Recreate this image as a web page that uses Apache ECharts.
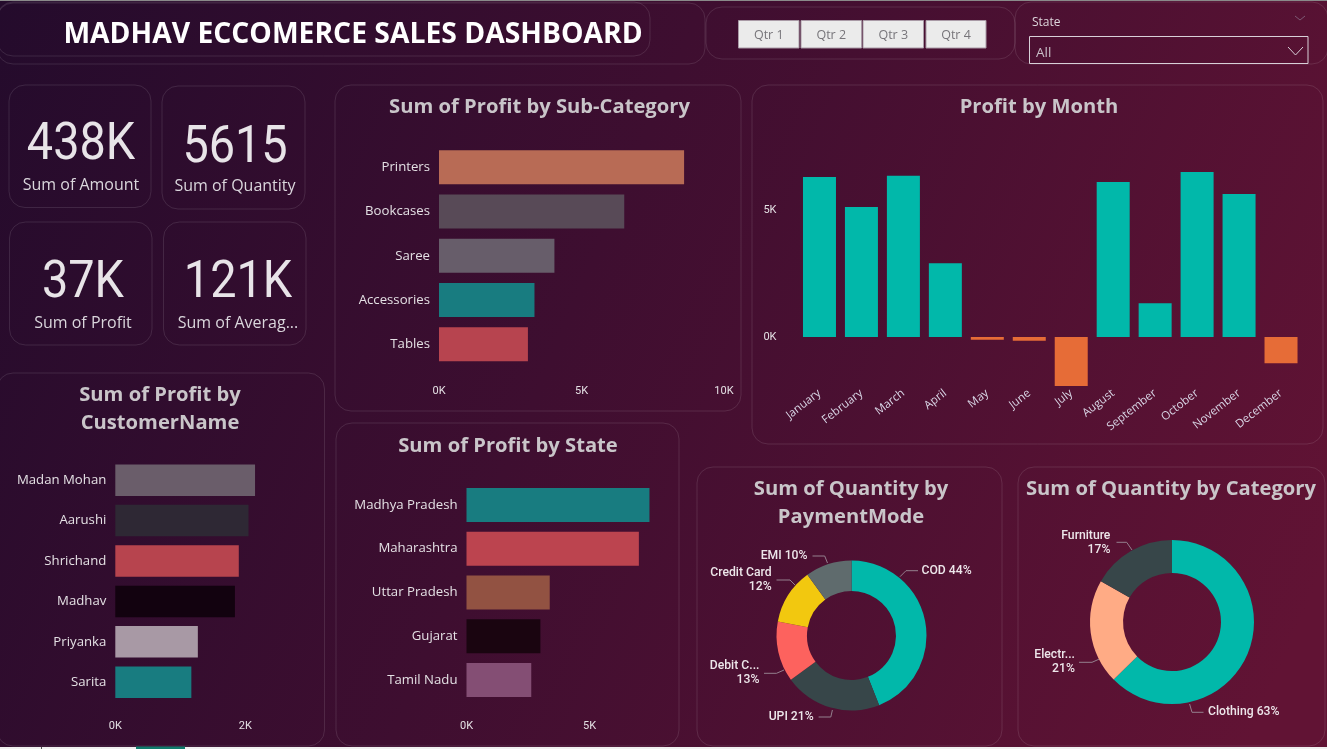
<!DOCTYPE html>
<html><head><meta charset="utf-8">
<style>html,body{margin:0;padding:0;background:#2a0c2e;overflow:hidden}#c{width:1327px;height:749px}</style>
<script src="https://cdn.jsdelivr.net/npm/echarts@6/dist/echarts.min.js"></script>
</head><body><div id="c"></div>
<script>
const subCategories=['Printers','Bookcases','Saree','Accessories','Tables'];
const subCategoryProfit=[8600,6500,4050,3350,3120];
const subCategoryColors=['#B86B55','#584A57','#675D6A','#187C80','#B7444F'];
const customers=['Madan Mohan','Aarushi','Shrichand','Madhav','Priyanka','Sarita'];
const customerProfit=[2150,2050,1900,1840,1270,1170];
const customerColors=['#6A5D6A','#2E2834','#B7444E','#12020F','#A899A5','#187C80'];
const states=['Madhya Pradesh','Maharashtra','Uttar Pradesh','Gujarat','Tamil Nadu'];
const stateProfit=[7430,7000,3380,3000,2630];
const stateColors=['#187C80','#BC444F','#925242','#1A0510','#844E74'];
const months=['January','February','March','April','May','June','July','August','September','October','November','December'];
const monthProfit=[6300,5120,6350,2900,-110,-150,-1930,6100,1330,6500,5630,-1030];
const paymentModes=['COD','UPI','Debit Card','Credit Card','EMI'];
const paymentShown=['COD','UPI','Debit C...','Credit Card','EMI'];
const paymentBreak=[false,false,true,true,false];
const paymentQty=[2470,1179,730,674,562];
const paymentColors=['#01B8AA','#374649','#FD625E','#F2C80F','#5F6B6D'];
const categories=['Clothing','Electronics','Furniture'];
const categoriesShown=['Clothing','Electr...','Furniture'];
const categoryBreak=[false,true,true];
const categoryQty=[3515,1162,938];
const categoryColors=['#01B8AA','#FFAB85','#374649'];
const kpiValues=['438K','5615','37K','121K'];
const kpiLabels=['Sum of Amount','Sum of Quantity','Sum of Profit','Sum of Averag...'];
const quarters=['Qtr 1','Qtr 2','Qtr 3','Qtr 4'];

const UI='"Open Sans","Noto Sans",sans-serif';
const DIN='Roboto,"Noto Sans",sans-serif';
const fmtK=v=>(v/1000)+'K';

// layout
const panels=[[-3,3,708,61],[-3,2,653,54],[706,7,309,52],[1015,2,313,62],
 [9,85,142,122.5],[162,86,143,123],[9.5,222,142.5,123],[163.5,222,142.5,123],
 [335,85,406,326],[336,423,343,323],[-3,373,327.5,373],[752,85,571,359],[697,467,305,279],[1018,467,307,279]];
const kpiPos=[[81,146,185],[235,149,186],[83,284,323],[238,284,323]];
const btnPos=[[738.5,60.5],[801,60.5],[863,60.5],[926,60]];
const payLab=[
 {x:921.5,y:570.7,align:'left',line:[[900,576.7],[906,570.7],[918,570.7]]},
 {x:813.7,y:716.7,align:'right',line:[[832.4,710],[830.8,717],[818.6,717]]},
 {x:759.4,y:672.7,align:'right',line:[[784,670],[776.5,673.3],[764,673.3]]},
 {x:771.6,y:579.7,align:'right',line:[[795,585],[790,580],[776.5,580]]},
 {x:807.5,y:556,align:'right',line:[[827.5,563],[824.7,556],[812.5,556]]}];
const catLab=[
 {x:1208,y:711.7,align:'left',line:[[1189.6,704],[1192,712.3],[1203.5,712.3]]},
 {x:1074.9,y:661.7,align:'right',line:[[1099.4,659],[1092,662.3],[1079,662.3]]},
 {x:1110.4,y:542.7,align:'right',line:[[1132,550],[1126.7,542.3],[1116.5,542.3]]}];

const graphic=[];
panels.forEach(p=>graphic.push({type:'rect',shape:{x:p[0],y:p[1],width:p[2],height:p[3],r:16},
  style:{fill:'transparent',stroke:'rgba(255,255,255,0.11)',lineWidth:1},silent:true}));
kpiValues.forEach((v,i)=>{
 graphic.push({type:'text',x:kpiPos[i][0],y:kpiPos[i][1],scaleX:0.9,style:{text:v,x:0,y:0,align:'center',verticalAlign:'middle',font:'400 52px '+DIN,fill:'#E8E4E8'}});
 graphic.push({type:'text',style:{text:kpiLabels[i],x:kpiPos[i][0],y:kpiPos[i][2],align:'center',verticalAlign:'middle',font:'400 16px '+UI,fill:'#DAD6DC'}});
});
quarters.forEach((q,i)=>{
 graphic.push({type:'rect',shape:{x:btnPos[i][0],y:20.5,width:btnPos[i][1],height:27.5},style:{fill:'#EBEBEB',stroke:'#a99aa6',lineWidth:1}});
 graphic.push({type:'text',style:{text:q,x:btnPos[i][0]+btnPos[i][1]/2,y:35,align:'center',verticalAlign:'middle',font:'400 12.5px '+UI,fill:'#77757A'}});
});
graphic.push({type:'text',style:{text:'State',x:1032,y:23,verticalAlign:'middle',font:'400 12px '+UI,fill:'#DDD6DC'}});
graphic.push({type:'rect',shape:{x:1029.5,y:36.5,width:278.5,height:27},style:{fill:'transparent',stroke:'#D8D0D8',lineWidth:1}});
graphic.push({type:'text',style:{text:'All',x:1036,y:53,verticalAlign:'middle',font:'400 13.5px '+UI,fill:'#C9BFC8'}});
graphic.push({type:'polyline',shape:{points:[[1288,47],[1295.5,55],[1303,47]]},style:{stroke:'#D8D0D8',fill:null,lineWidth:1}});
graphic.push({type:'polyline',shape:{points:[[1295,16],[1300,20],[1305,16]]},style:{stroke:'#7d5a74',fill:null,lineWidth:1}});
graphic.push({type:'rect',shape:{x:0,y:747,width:1327,height:2},style:{fill:'#F0F0F0'}});
graphic.push({type:'rect',shape:{x:136,y:746.5,width:49,height:2.5},style:{fill:'#0F7B6C'}});
graphic.push({type:'rect',shape:{x:41,y:747,width:1,height:2},style:{fill:'#555'}});
graphic.push({type:'rect',shape:{x:0,y:0,width:1327,height:1},style:{fill:'#8a8a8a'}});

const ttl=(text,x,y)=>({text,left:x,top:y,padding:0,textAlign:'center',textVerticalAlign:'middle',
  textStyle:{color:'#C9C5C9',fontFamily:UI,fontWeight:700,fontSize:20.2,lineHeight:27.5}});
const titles=[ttl('MADHAV ECCOMERCE SALES DASHBOARD',353,35),ttl('Sum of Profit by Sub-Category',539.5,107),
 ttl('Profit by Month',1039,107),ttl('Sum of Profit by\nCustomerName',160,409),ttl('Sum of Profit by State',508,446),
 ttl('Sum of Quantity by\nPaymentMode',851,503),ttl('Sum of Quantity by Category',1171,489)];
titles[0].textStyle=Object.assign({},titles[0].textStyle,{color:'#fff',fontSize:28.3});

const grids=[
 {left:439,top:145,width:285,height:221.5},
 {left:115.3,top:460,width:195,height:242.4},
 {left:466.5,top:483,width:197,height:219},
 {left:798.5,top:159.2,width:503.5,height:228.6}];
const catAxis=(i,data)=>({type:'category',gridIndex:i,data,inverse:true,axisLine:{show:false},axisTick:{show:false},
  axisLabel:{color:'#E4E0E4',fontFamily:UI,fontSize:13.2,margin:9,padding:[4,0,0,0]}});
const valAxis=(i,max,ticks,margin)=>({type:'value',gridIndex:i,min:0,max,splitLine:{show:false},axisLine:{show:false},axisTick:{show:false},
  axisLabel:{color:'#E4E0E4',fontFamily:DIN,fontSize:11,margin,formatter:fmtK,customValues:ticks,hideOverlap:false}});
const barSeries=(i,vals,cols,w)=>({type:'bar',xAxisIndex:i,yAxisIndex:i,barWidth:w,silent:true,
  data:vals.map((v,k)=>({value:v,itemStyle:{color:cols[k]}}))});
const pie=(center,radius,names,shown,brk,vals,cols,lab)=>({type:'pie',center,radius,startAngle:90,silent:true,avoidLabelOverlap:false,
  data:vals.map((v,k)=>({name:names[k],value:v,itemStyle:{color:cols[k]}})),
  label:{show:true,position:'outside',color:'#EDE6EA',fontFamily:DIN,fontWeight:500,fontSize:12.2,lineHeight:14,
    formatter:p=>shown[p.dataIndex]+(brk[p.dataIndex]?'\n':' ')+Math.round(p.percent)+'%'},
  labelLine:{show:true,lineStyle:{color:'#94808E',width:1}},
  labelLayout:p=>{const l=lab[p.dataIndex];return {x:l.x,y:l.y,align:l.align,verticalAlign:'middle',labelLinePoints:l.line};}});

const option={
 animation:false,
 backgroundColor:{type:'linear',x:0,y:0,x2:1,y2:0.75,colorStops:[{offset:0,color:'#240B2C'},{offset:0.45,color:'#3E0E30'},{offset:1,color:'#611334'}]},
 title:titles,graphic,grid:grids,
 xAxis:[valAxis(0,10000,[0,5000,10000],19),valAxis(1,3000,[0,2000],18),valAxis(2,8000,[0,5000],19),
  {type:'category',gridIndex:3,data:months,axisLine:{show:false,onZero:false},axisTick:{show:false},
   axisLabel:{color:'#D9D6E6',fontFamily:UI,fontSize:11.5,rotate:38,margin:4,interval:0}}],
 yAxis:[catAxis(0,subCategories),catAxis(1,customers),catAxis(2,states),
  {type:'value',gridIndex:3,min:-2000,max:7000,splitLine:{show:false},axisLine:{show:false},axisTick:{show:false},
   axisLabel:{color:'#E4E0E4',fontFamily:DIN,fontSize:11,margin:22,padding:[4,0,0,0],formatter:fmtK,customValues:[0,5000]}}],
 series:[
  barSeries(0,subCategoryProfit,subCategoryColors,34),
  barSeries(1,customerProfit,customerColors,31.5),
  barSeries(2,stateProfit,stateColors,34),
  {type:'bar',xAxisIndex:3,yAxisIndex:3,barWidth:33,silent:true,
   data:monthProfit.map(v=>({value:v,itemStyle:{color:v<0?'#E66C37':'#01B8AA'}}))},
  pie([851.5,635.5],[44.5,75],paymentModes,paymentShown,paymentBreak,paymentQty,paymentColors,payLab),
  pie([1172,622],[49,82],categories,categoriesShown,categoryBreak,categoryQty,categoryColors,catLab)
 ]};
echarts.init(document.getElementById('c'),null,{renderer:'canvas'}).setOption(option);
</script></body></html>
